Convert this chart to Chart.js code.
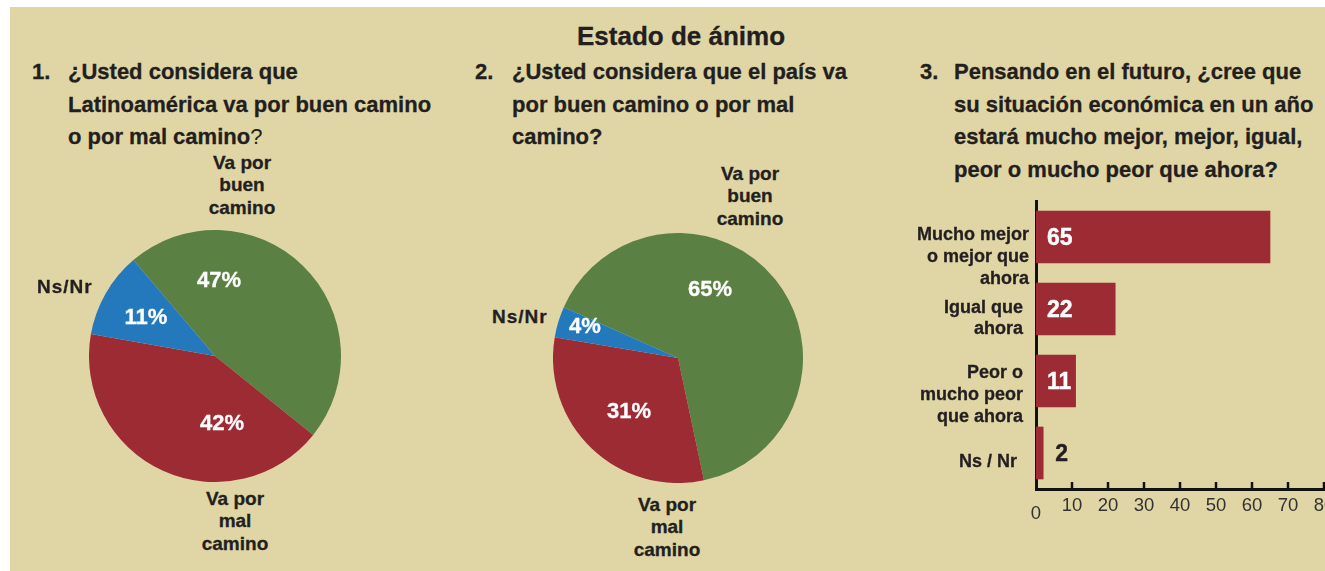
<!DOCTYPE html>
<html>
<head>
<meta charset="utf-8">
<script src="https://cdn.jsdelivr.net/npm/chart.js@4"></script>
<style>
  body { margin: 0; width: 1325px; height: 571px; overflow: hidden; position: relative; background: #fff;
         font-family: "Liberation Sans", Arial, sans-serif; color: #231f20; }
  #panel { position: absolute; left: 10px; top: 7px; right: 0; bottom: 0; background: #e0d6a5; }
  .t { position: absolute; font-weight: bold; white-space: nowrap; -webkit-text-stroke: 0.3px currentColor; }
  canvas { position: absolute; }
</style>
</head>
<body>
<div id="panel"></div>
<canvas id="pie1" width="252" height="252" style="left:89px;top:230px"></canvas>
<canvas id="pie2" width="250" height="250" style="left:553px;top:233px"></canvas>
<canvas id="bar" width="325" height="340" style="left:1000px;top:190px"></canvas>

<script>
// data
const pieNames = [["Va por", "buen", "camino"], ["Va por", "mal", "camino"], ["Ns/Nr"]];
const pie1Values = [47, 42, 11];
const pie2Values = [65, 31, 4];
const pieColors = ["#5b8044", "#9c2b34", "#2479bd"];

const barCategories = [["Mucho mejor", "o mejor que", "ahora"], ["Igual que", "ahora"], ["Peor o", "mucho peor", "que ahora"], ["Ns / Nr"]];
const barValues = [65, 22, 11, 2];
const xMin = 0, xMax = 80, xStep = 10;

const title = "Estado de ánimo";
const questions = [
  { num: "1.", lines: ["¿Usted considera que", "Latinoamérica va por buen camino", "o por mal camino<span style='font-weight:normal;-webkit-text-stroke:0'>?</span>"] },
  { num: "2.", lines: ["¿Usted considera que el país va", "por buen camino o por mal", "camino?"] },
  { num: "3.", lines: ["Pensando en el futuro, ¿cree que", "su situación económica en un año", "estará mucho mejor, mejor, igual,", "peor o mucho peor que ahora?"] }
];

// text placement helper: y = centre of first line
function put(html, x, y, size, lh, align, extra) {
  const d = document.createElement("div");
  d.className = "t";
  d.innerHTML = html;
  d.style.fontSize = size + "px";
  d.style.lineHeight = lh + "px";
  d.style.top = (y - lh / 2) + "px";
  d.style.textAlign = align;
  if (align === "left") d.style.left = x + "px";
  else if (align === "right") d.style.right = (1325 - x) + "px";
  else { d.style.left = x + "px"; d.style.transform = "translateX(-50%)"; }
  if (extra) Object.assign(d.style, extra);
  document.body.appendChild(d);
}

put(title, 681, 36, 26, 30, "center");

const qPos = [[32, 68], [475, 512], [920, 954]];
questions.forEach((q, i) => {
  put(q.num, qPos[i][0], 72.5, 22, 32.5, "left");
  put(q.lines.join("<br>"), qPos[i][1], 72.5, 22, 32.5, "left");
});

// pie labels
const pieNamePos = [
  [[242, 163, "center"], [235, 499, "center"], [37, 287, "left"]],
  [[750, 174, "center"], [667, 505, "center"], [492, 317, "left"]]
];
const piePctPos = [
  [[219, 280], [222, 423], [146, 317]],
  [[710, 289], [629, 411], [585, 326]]
];
[pie1Values, pie2Values].forEach((vals, p) => {
  vals.forEach((v, i) => {
    const [x, y, a] = pieNamePos[p][i];
    put(pieNames[i].join("<br>"), x, y, 19, 22.5, a, pieNames[i].length === 1 ? { letterSpacing: "1px" } : null);
    put(v + "%", piePctPos[p][i][0], piePctPos[p][i][1], 22, 26, "center", { color: "#fff" });
  });
});

// bar category labels
const barLabelPos = [[1029, 235, 21.7], [1023, 307, 21], [1023, 373, 21.7], [1017, 461, 21]];
barCategories.forEach((c, i) => {
  put(c.join("<br>"), barLabelPos[i][0], barLabelPos[i][1], 18, barLabelPos[i][2], "right");
});

function makePie(id, values, rotation) {
  new Chart(document.getElementById(id), {
    type: "pie",
    data: {
      labels: pieNames.map(n => n.join(" ")),
      datasets: [{ data: values, backgroundColor: pieColors, borderWidth: 0 }]
    },
    options: {
      responsive: false, animation: false, devicePixelRatio: 1,
      rotation: rotation,
      layout: { padding: 0 },
      plugins: { legend: { display: false }, tooltip: { enabled: false } }
    }
  });
}
makePie("pie1", pie1Values, -40.4);
makePie("pie2", pie2Values, -66);

// tick marks, the low "0" and the bar values
const barExtras = {
  id: "barExtras",
  afterDraw(chart) {
    const ctx = chart.ctx, xs = chart.scales.x, bottom = chart.chartArea.bottom;
    ctx.save();
    ctx.strokeStyle = "#111";
    ctx.lineWidth = 2.5;
    xs.ticks.forEach(t => {
      if (t.value === xMin) return;
      const px = xs.getPixelForValue(t.value);
      ctx.beginPath();
      ctx.moveTo(px, bottom - 7);
      ctx.lineTo(px, bottom);
      ctx.stroke();
    });
    ctx.fillStyle = "#333";
    ctx.font = '18.5px "Liberation Sans"';
    ctx.textAlign = "center";
    ctx.textBaseline = "alphabetic";
    ctx.fillText(String(xMin), xs.getPixelForValue(xMin), 322.5 + 6.6);

    ctx.font = 'bold 23px "Liberation Sans"';
    ctx.textAlign = "left";
    ctx.lineWidth = 0.4;
    chart.getDatasetMeta(0).data.forEach((bar, i) => {
      const v = barValues[i];
      const tx = v >= 5 ? bar.base + 11 : bar.x + 12;
      ctx.fillStyle = ctx.strokeStyle = v >= 5 ? "#fff" : "#231f20";
      ctx.fillText(v, tx, bar.y + 8.2);
      ctx.strokeText(v, tx, bar.y + 8.2);
    });
    ctx.restore();
  }
};

new Chart(document.getElementById("bar"), {
  type: "bar",
  data: {
    labels: barCategories,
    datasets: [{ data: barValues, backgroundColor: "#9c2b34", barThickness: 52 }]
  },
  options: {
    indexAxis: "y",
    responsive: false, animation: false, devicePixelRatio: 1,
    layout: { padding: { left: 36, top: 11, right: 1, bottom: 11 } },
    plugins: { legend: { display: false }, tooltip: { enabled: false } },
    scales: {
      x: {
        min: xMin, max: xMax,
        ticks: { stepSize: xStep, autoSkip: false, maxRotation: 0, padding: 6, color: "#333",
                 font: { size: 18.5, family: "Liberation Sans" },
                 callback: v => v === xMin ? "" : v },
        grid: { display: false, drawTicks: false },
        border: { color: "#111", width: 3 },
        afterFit(s) { s.height = 30; s.paddingLeft = 0; s.paddingRight = 0; }
      },
      y: {
        ticks: { display: false },
        grid: { display: false, drawTicks: false },
        border: { color: "#111", width: 3 },
        afterFit(s) { s.width = 0; s.paddingTop = 0; s.paddingBottom = 0; }
      }
    }
  },
  plugins: [barExtras]
});
</script>
</body>
</html>
